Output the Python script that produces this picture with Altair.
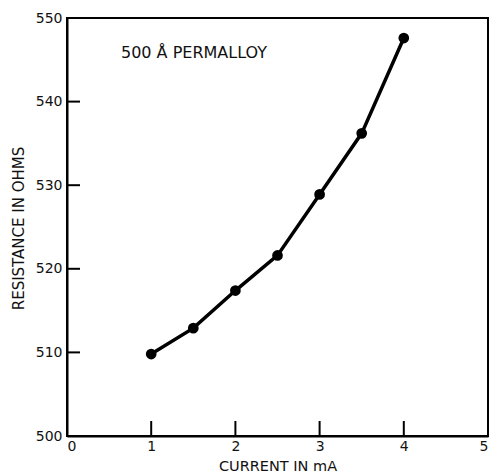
import altair as alt
import pandas as pd

# Measured resistance of a 500 Å permalloy film vs. drive current
current_ma = [1.0, 1.5, 2.0, 2.5, 3.0, 3.5, 4.0]
resistance_ohm = [509.8, 512.9, 517.4, 521.6, 528.9, 536.2, 547.6]

x_tick_values = [1, 2, 3, 4]
y_tick_values = [510, 520, 530, 540]
x_label_values = [0, 1, 2, 3, 4, 5]
y_label_values = [500, 510, 520, 530, 540, 550]

W, H = 421, 418
FONT = "DejaVu Sans"
INK = "#111111"

df = pd.DataFrame({"current": current_ma, "resistance": resistance_ohm})
xt = pd.DataFrame({"current": x_tick_values})
yt = pd.DataFrame({"resistance": y_tick_values})

xscale = alt.Scale(domain=[0, 5], nice=False, zero=False)
yscale = alt.Scale(domain=[500, 550], nice=False, zero=False)

x_axis = alt.Axis(
    values=x_label_values, format="d", tickSize=0, ticks=False, grid=False,
    labelFlush=False, labelPadding=3, labelFontSize=14, labelFont=FONT,
    labelColor=INK,
    labelAlign=alt.expr(
        "datum.value == 0 ? 'left' : (datum.value == 5 ? 'right' : 'center')"
    ),
    domainColor="black", domainWidth=2,
    title="CURRENT IN mA", titleFont=FONT, titleFontSize=14.5,
    titleFontWeight="normal", titleColor=INK, titleBaseline="alphabetic",
    titleY=34,
)
y_axis = alt.Axis(
    values=y_label_values, format="d", tickSize=0, ticks=False, grid=False,
    labelFlush=False, labelPadding=5, labelFontSize=14, labelFont=FONT,
    labelColor=INK, domainColor="black", domainWidth=2,
    title="RESISTANCE IN OHMS", titleFont=FONT, titleFontSize=15,
    titleFontWeight="normal", titleColor=INK, titleAngle=270,
    titleBaseline="alphabetic", titleAlign="center", titleX=-44, titleY=210,
)

base = alt.Chart(df).encode(
    x=alt.X("current:Q", scale=xscale, axis=x_axis),
    y=alt.Y("resistance:Q", scale=yscale, axis=y_axis),
)

line = base.mark_line(color="black", strokeWidth=3.5)
points = base.mark_circle(color="black", opacity=1, size=115)

# inward-pointing tick marks
x_ticks = alt.Chart(xt).mark_rule(color="black", strokeWidth=2).encode(
    x=alt.X("current:Q", scale=xscale),
    y=alt.value(H),
    y2=alt.value(H - 15),
)
y_ticks = alt.Chart(yt).mark_rule(color="black", strokeWidth=2).encode(
    y=alt.Y("resistance:Q", scale=yscale),
    x=alt.value(0),
    x2=alt.value(13),
)

label = alt.Chart(pd.DataFrame({"t": ["500 Å PERMALLOY"]})).mark_text(
    font=FONT, fontSize=16, color=INK, align="center", baseline="alphabetic"
).encode(
    text="t:N",
    x=alt.value(127),
    y=alt.value(40),
)

chart = alt.layer(line, points, x_ticks, y_ticks, label).properties(
    width=W,
    height=H,
    autosize=alt.AutoSizeParams(type="none"),
    padding={"left": 67, "top": 18, "right": 5, "bottom": 37},
).configure(
    background="white",
    view=alt.ViewConfig(stroke="black", strokeWidth=2),
)

chart.save("out.html", embed_options={"renderer": "svg", "actions": False})
